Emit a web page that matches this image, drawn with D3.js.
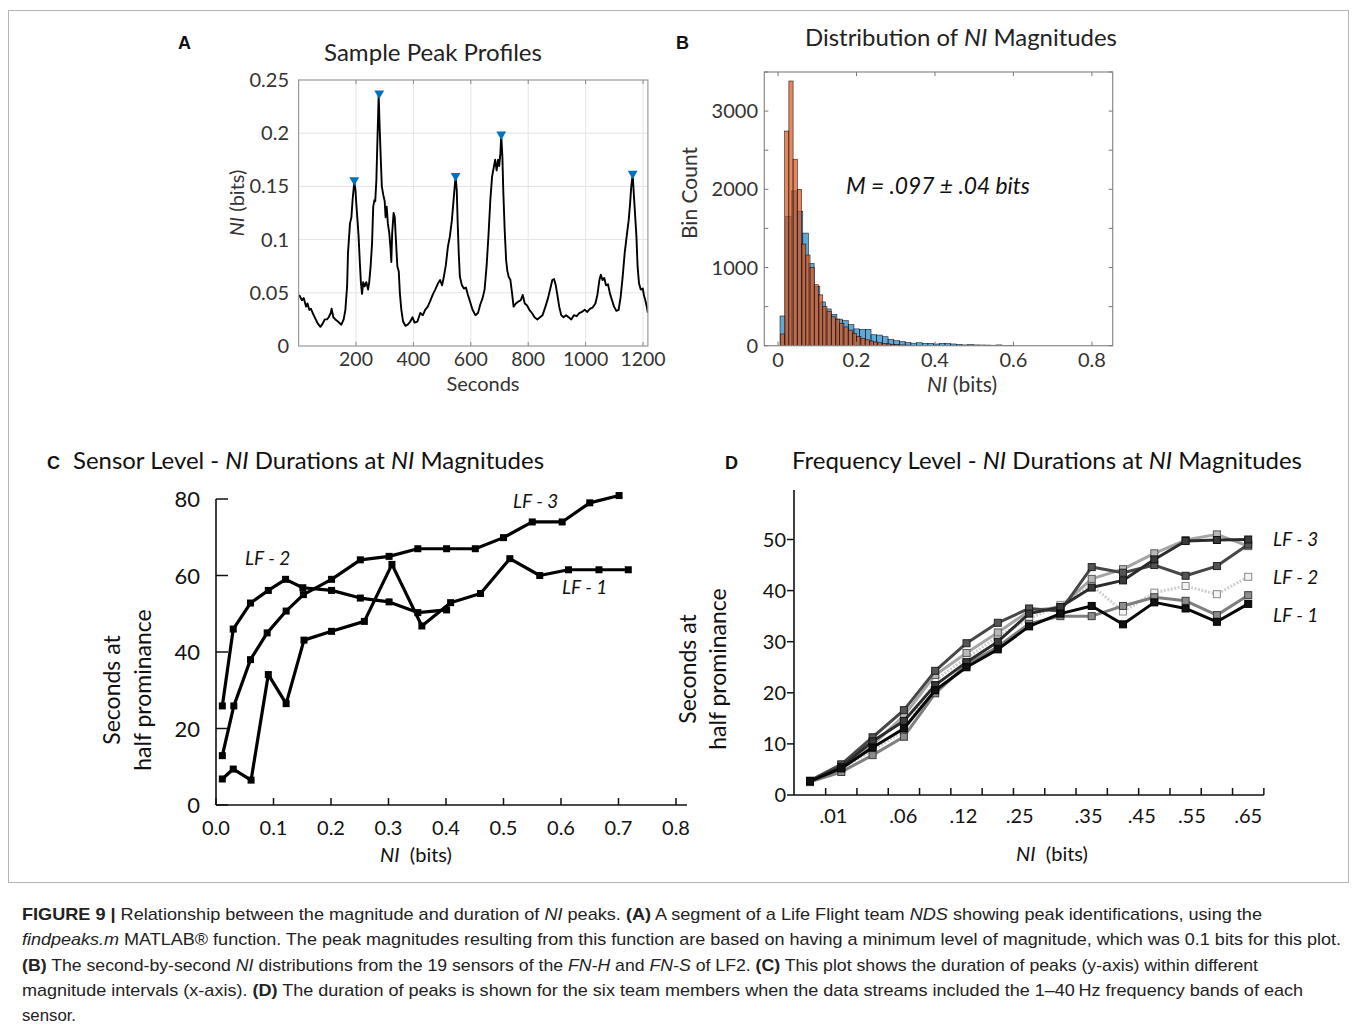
<!DOCTYPE html>
<html><head><meta charset="utf-8">
<script src="https://cdn.jsdelivr.net/npm/d3@7"></script>
<style>body{margin:0;background:#fff}svg{display:block}</style>
</head><body>
<svg id="fig" width="1357" height="1027"></svg>
<script>
// ---------------- DATA ----------------
// Panel A: sample NI profile (seconds, NI bits)
const profileSeconds = [2,12,18,26,31,37,43,49,58,67,76,84,91,99,105,112,115,121,128,137,149,157,163,169,172,179,184,188,194,198,201,206,209,214,217,221,225,230,236,242,246,251,256,260,264,267,271,274,279,282,286,290,295,300,303,307,311,316,320,323,326,331,335,339,344,349,353,358,364,372,380,389,397,404,414,424,433,441,450,458,467,476,486,493,500,506,513,520,527,534,539,544,547,551,554,558,562,569,576,583,590,597,606,616,625,633,641,648,655,662,668,674,680,685,690,695,699,703,706,710,713,718,723,727,732,738,744,749,757,767,774,781,788,796,804,813,822,832,841,850,860,869,877,884,890,896,901,908,915,923,932,941,950,959,969,978,987,997,1006,1015,1024,1034,1041,1048,1053,1059,1065,1071,1078,1085,1092,1099,1107,1115,1122,1129,1136,1143,1150,1155,1159,1164,1167,1172,1177,1181,1186,1192,1199,1203,1208,1213,1217];
const profileNI = [.048,.043,.045,.037,.040,.034,.035,.031,.026,.021,.018,.021,.025,.025,.027,.031,.035,.027,.025,.023,.020,.025,.034,.056,.087,.115,.121,.137,.154,.147,.134,.115,.103,.075,.060,.049,.060,.056,.060,.053,.060,.075,.097,.131,.137,.136,.156,.187,.236,.209,.178,.150,.142,.136,.121,.131,.115,.106,.093,.079,.106,.125,.121,.100,.075,.070,.049,.034,.023,.019,.020,.023,.027,.022,.023,.031,.029,.034,.037,.042,.048,.053,.059,.062,.057,.065,.076,.093,.103,.118,.134,.150,.159,.147,.118,.087,.065,.057,.054,.055,.048,.042,.034,.029,.031,.039,.045,.053,.075,.106,.137,.159,.168,.175,.165,.175,.169,.181,.198,.178,.147,.109,.081,.071,.065,.062,.049,.037,.040,.042,.043,.048,.040,.038,.034,.031,.027,.025,.027,.029,.037,.045,.054,.062,.063,.057,.049,.037,.029,.027,.029,.027,.025,.029,.028,.031,.032,.034,.032,.035,.036,.040,.048,.062,.067,.062,.064,.057,.058,.049,.043,.037,.033,.034,.046,.065,.087,.103,.118,.134,.150,.161,.147,.125,.103,.075,.059,.053,.054,.048,.043,.037,.031];
const peakSeconds = [194, 281, 547, 706, 1164];
const peakNI = [0.156, 0.2375, 0.160, 0.199, 0.162];
const aXTicks = [200, 400, 600, 800, 1000, 1200];
const aYTicks = [0, 0.05, 0.1, 0.15, 0.2, 0.25];
const aYTickLabels = ["0", "0.05", "0.1", "0.15", "0.2", "0.25"];

// Panel B: histograms of NI magnitudes
const blueBinStart = 0.005, blueBinWidth = 0.0145;
const blueCounts = [380,1650,1980,1720,1440,1050,760,560,470,400,340,320,270,215,210,210,140,136,115,82,64,52,40,32,38,30,30,22,30,28,22,17,10,15,10,9,8,6,10,5,4];
const orangeBinStart = 0.006, orangeBinWidth = 0.0108;
const orangeCounts = [150,2745,3385,2385,2000,1300,1160,1000,780,650,500,435,370,340,285,240,200,160,120,95,75,60,48,38,30,24,18,14,10,8,6,4,3,2];
const bXTicks = [0, 0.2, 0.4, 0.6, 0.8];
const bXTickLabels = ["0", "0.2", "0.4", "0.6", "0.8"];
const bYTicks = [0, 1000, 2000, 3000];
const bYMinorTicks = [500, 1500, 2500, 3500];

// Panel C: sensor level durations
const cLF1x = [0.011,0.030,0.061,0.091,0.122,0.153,0.201,0.258,0.306,0.358,0.408,0.460,0.511,0.563,0.613,0.666,0.717];
const cLF1y = [6.8,9.4,6.5,34.1,26.5,43.1,45.4,48,62.9,46.8,52.9,55.3,64.4,60,61.5,61.5,61.5];
const cLF2x = [0.011,0.030,0.060,0.091,0.121,0.151,0.201,0.251,0.301,0.351,0.401];
const cLF2y = [25.9,46,52.8,56.1,59,56.8,56.1,54.1,53.1,50.3,51];
const cLF3x = [0.011,0.031,0.060,0.089,0.122,0.152,0.201,0.251,0.301,0.351,0.401,0.451,0.500,0.550,0.602,0.650,0.701];
const cLF3y = [12.9,25.9,38,45,50.7,55,59,64.1,65,67,67,67,69.9,74,74,79,80.9];
const cXTicks = [0,0.1,0.2,0.3,0.4,0.5,0.6,0.7,0.8];
const cXTickLabels = ["0.0","0.1","0.2","0.3","0.4","0.5","0.6","0.7","0.8"];
const cYTicks = [0,20,40,60,80];

// Panel D: frequency level durations, six team members (15 magnitude bins)
const dBins = d3.range(1, 16);
const dMember1 = [2.7,5.2,9.3,13.0,20.5,25.0,28.5,33.0,35.5,37.0,33.4,37.7,36.5,33.9,37.4];
const dMember2 = [2.6,4.5,7.8,11.4,19.9,25.5,29.0,33.5,35.0,35.0,37.0,38.7,38.0,35.2,39.1];
const dMember3 = [2.5,5.0,8.8,12.5,22.5,26.8,31.0,34.5,37.2,41.0,35.9,39.6,40.9,39.3,42.7];
const dMember4 = [2.8,6.0,11.3,16.6,24.3,29.7,33.7,36.5,36.0,44.6,43.5,45.0,42.9,44.8,49.0];
const dMember5 = [2.7,5.5,10.5,14.5,21.5,26.0,30.0,35.5,36.8,40.6,42.0,46.1,49.7,49.9,50.0];
const dMember6 = [2.6,5.8,9.8,15.5,23.5,27.8,31.8,36.0,36.8,42.3,44.2,47.3,49.9,51.0,48.7];
const dTickLabels = [".01",".06",".12",".25",".35",".45",".55",".65"];
const dTickLabelBins = [1.75, 3.98, 5.9, 7.7, 9.9, 11.6, 13.2, 15];
const dYTicks = [0,10,20,30,40,50];

// ---------------- DRAW ----------------
const svg = d3.select('#fig');
const F = "Lato, 'Open Sans', sans-serif";
const CAP = "'Liberation Sans', Arial, sans-serif";
svg.append('rect').attr('width',1357).attr('height',1027).attr('fill','#fff');
svg.append('rect').attr('x',8.5).attr('y',10.5).attr('width',1340).attr('height',872)
  .attr('fill','none').attr('stroke','#b5b5b5').attr('stroke-width',1);

function rich(parent, x, y, str, opts) {
  const t = parent.append('text').attr('x', x).attr('y', y);
  Object.entries(opts || {}).forEach(([k, v]) => t.attr(k, v));
  str.split(/(\*\*[^*]+\*\*|\*[^*]+\*)/).filter(s => s.length).forEach(s => {
    const ts = t.append('tspan');
    if (s.startsWith('**')) ts.text(s.slice(2, -2)).attr('font-weight', 'bold');
    else if (s.startsWith('*')) ts.text(s.slice(1, -1)).attr('font-style', 'italic');
    else ts.text(s);
  });
  return t;
}
const zip = (a, b) => a.map((v, i) => [v, b[i]]);

// Panel letters
[['A',178,49],['B',676,49],['C',47,469],['D',725,469]].forEach(([l,x,y]) =>
  svg.append('text').attr('x',x).attr('y',y).text(l).attr('font-family',CAP)
    .attr('font-weight','bold').attr('font-size',18).attr('fill','#111'));

// ===== Panel A =====
{
  const g = svg.append('g');
  const x = d3.scaleLinear().domain([0, 1217]).range([298.6, 647.9]);
  const y = d3.scaleLinear().domain([0, 0.25]).range([346, 80]);
  const [x0, x1] = x.range(), [y0, y1] = y.range();
  g.selectAll('.gx').data(aXTicks).join('line').attr('x1', d => x(d)).attr('x2', d => x(d))
    .attr('y1', y0).attr('y2', y1).attr('stroke', '#e4e4e4').attr('stroke-width', 1);
  g.selectAll('.gy').data(aYTicks.slice(1, -1)).join('line').attr('y1', d => y(d)).attr('y2', d => y(d))
    .attr('x1', x0).attr('x2', x1).attr('stroke', '#e4e4e4').attr('stroke-width', 1);
  g.append('clipPath').attr('id', 'clipA').append('rect').attr('x', x0).attr('y', y1).attr('width', x1 - x0).attr('height', y0 - y1);
  g.append('path').datum(zip(profileSeconds, profileNI)).attr('clip-path', 'url(#clipA)')
    .attr('d', d3.line().x(d => x(d[0])).y(d => y(d[1])))
    .attr('fill', 'none').attr('stroke', '#000').attr('stroke-width', 1.9).attr('stroke-linejoin', 'round');
  g.selectAll('.pk').data(zip(peakSeconds, peakNI)).join('path')
    .attr('d', d3.symbol(d3.symbolTriangle, 42)())
    .attr('transform', d => `translate(${x(d[0])},${y(d[1])}) rotate(180)`).attr('fill', '#0072BD');
  g.append('rect').attr('x', x0).attr('y', y1).attr('width', x1 - x0).attr('height', y0 - y1)
    .attr('fill', 'none').attr('stroke', '#9a9a9a').attr('stroke-width', 1.2);
  aXTicks.forEach(d => {
    g.append('line').attr('x1', x(d)).attr('x2', x(d)).attr('y1', y0).attr('y2', y0 - 4).attr('stroke', '#888');
    g.append('line').attr('x1', x(d)).attr('x2', x(d)).attr('y1', y1).attr('y2', y1 + 4).attr('stroke', '#888');
  });
  g.selectAll('.xl').data(aXTicks).join('text').attr('x', d => x(d)).attr('y', 366).text(d => d)
    .attr('text-anchor', 'middle').attr('font-family', F).attr('font-size', 19.5).attr('fill', '#333');
  g.selectAll('.yl').data(aYTicks).join('text').attr('x', 289).attr('y', d => y(d) + 7).text((d, i) => aYTickLabels[i])
    .attr('text-anchor', 'end').attr('font-family', F).attr('font-size', 20).attr('fill', '#333');
  g.append('text').attr('x', 483).attr('y', 391).text('Seconds').attr('text-anchor', 'middle')
    .attr('font-family', F).attr('font-size', 20).attr('fill', '#333');
  rich(g, 0, 0, '*NI* (bits)', {transform: 'translate(244,203) rotate(-90)', 'text-anchor': 'middle',
    'font-family': F, 'font-size': 20, fill: '#333'});
  rich(g, 433, 61, 'Sample Peak Profiles', {'text-anchor': 'middle', 'font-family': F, 'font-size': 23,
    fill: '#222', textLength: 218, lengthAdjust: 'spacingAndGlyphs'});
}

// ===== Panel B =====
{
  const g = svg.append('g');
  const x = d3.scaleLinear().domain([-0.035, 0.853]).range([764.3, 1112.7]);
  const y = d3.scaleLinear().domain([0, 3500]).range([345.7, 72]);
  const [x0, x1] = x.range(), [y0, y1] = y.range();
  const drawHist = (counts, start, w, color, op) => {
    g.append('g').selectAll('rect').data(counts).join('rect')
      .attr('x', (d, i) => x(start + i * w)).attr('width', (d, i) => x(start + (i + 1) * w) - x(start + i * w))
      .attr('y', d => y(d)).attr('height', d => y(0) - y(d))
      .attr('fill', color).attr('fill-opacity', op)
      .attr('stroke', '#000').attr('stroke-width', 0.6).attr('stroke-opacity', 0.85);
  };
  drawHist(blueCounts, blueBinStart, blueBinWidth, '#0072BD', 0.62);
  drawHist(orangeCounts, orangeBinStart, orangeBinWidth, '#D95319', 0.7);
  g.append('rect').attr('x', x0).attr('y', y1).attr('width', x1 - x0).attr('height', y0 - y1)
    .attr('fill', 'none').attr('stroke', '#8a8a8a').attr('stroke-width', 1.2);
  bXTicks.forEach(d => {
    g.append('line').attr('x1', x(d)).attr('x2', x(d)).attr('y1', y0).attr('y2', y0 - 4).attr('stroke', '#777');
    g.append('line').attr('x1', x(d)).attr('x2', x(d)).attr('y1', y1).attr('y2', y1 + 4).attr('stroke', '#777');
  });
  bYTicks.concat(bYMinorTicks).forEach(d => {
    g.append('line').attr('y1', y(d)).attr('y2', y(d)).attr('x1', x0).attr('x2', x0 + 4).attr('stroke', '#777');
    g.append('line').attr('y1', y(d)).attr('y2', y(d)).attr('x1', x1).attr('x2', x1 - 4).attr('stroke', '#777');
  });
  g.selectAll('.xl').data(bXTicks).join('text').attr('x', d => x(d)).attr('y', 367).text((d, i) => bXTickLabels[i])
    .attr('text-anchor', 'middle').attr('font-family', F).attr('font-size', 20).attr('fill', '#333');
  g.selectAll('.yl').data(bYTicks).join('text').attr('x', 758).attr('y', d => y(d) + 7).text(d => d)
    .attr('text-anchor', 'end').attr('font-family', F).attr('font-size', 20).attr('fill', '#333');
  rich(g, 962, 392, '*NI* (bits)', {'text-anchor': 'middle', 'font-family': F, 'font-size': 21, fill: '#333'});
  rich(g, 0, 0, 'Bin Count', {transform: 'translate(697,193) rotate(-90)', 'text-anchor': 'middle',
    'font-family': F, 'font-size': 21, fill: '#333'});
  rich(g, 846, 194, '*M = .097 ± .04 bits*', {'font-family': F, 'font-size': 23, fill: '#111',
    textLength: 184, lengthAdjust: 'spacingAndGlyphs'});
  rich(g, 961, 46, 'Distribution of *NI* Magnitudes', {'text-anchor': 'middle', 'font-family': F, 'font-size': 23,
    fill: '#222', textLength: 312, lengthAdjust: 'spacingAndGlyphs'});
}

// ===== Panel C =====
{
  const g = svg.append('g');
  const x = d3.scaleLinear().domain([0, 0.8]).range([216, 676]);
  const y = d3.scaleLinear().domain([0, 80]).range([805, 499]);
  g.append('line').attr('x1', 216).attr('x2', 687).attr('y1', y(0)).attr('y2', y(0)).attr('stroke', '#111').attr('stroke-width', 1.6);
  g.append('line').attr('x1', 216).attr('x2', 216).attr('y1', y(0)).attr('y2', y(80)).attr('stroke', '#111').attr('stroke-width', 1.6);
  cXTicks.forEach(d => g.append('line').attr('x1', x(d)).attr('x2', x(d)).attr('y1', y(0)).attr('y2', y(0) - 7).attr('stroke', '#111').attr('stroke-width', 1.5));
  cYTicks.forEach(d => g.append('line').attr('y1', y(d)).attr('y2', y(d)).attr('x1', 216).attr('x2', 228).attr('stroke', '#111').attr('stroke-width', 1.5));
  const line = d3.line().x(d => x(d[0])).y(d => y(d[1]));
  [[cLF1x, cLF1y], [cLF2x, cLF2y], [cLF3x, cLF3y]].forEach(([xs, ys]) => {
    const pts = zip(xs, ys);
    g.append('path').datum(pts).attr('d', line).attr('fill', 'none').attr('stroke', '#000')
      .attr('stroke-width', 3.2).attr('stroke-linejoin', 'round');
    g.append('g').selectAll('rect').data(pts).join('rect')
      .attr('x', d => x(d[0]) - 3.5).attr('y', d => y(d[1]) - 3.5).attr('width', 7).attr('height', 7).attr('fill', '#000');
  });
  g.selectAll('.xl').data(cXTicks).join('text').attr('x', d => x(d)).attr('y', 835).text((d, i) => cXTickLabels[i])
    .attr('text-anchor', 'middle').attr('font-family', F).attr('font-size', 20).attr('fill', '#111');
  g.selectAll('.yl').data(cYTicks).join('text').attr('x', 200).attr('y', d => y(d) + 8).text(d => d)
    .attr('text-anchor', 'end').attr('font-family', F).attr('font-size', 22).attr('fill', '#111');
  rich(g, 416, 862, '*NI*  (bits)', {'text-anchor': 'middle', 'font-family': F, 'font-size': 20, fill: '#111', 'xml:space': 'preserve'});
  rich(g, 0, 0, 'Seconds at', {transform: 'translate(120,690) rotate(-90)', 'text-anchor': 'middle', 'font-family': F, 'font-size': 23, fill: '#111'});
  rich(g, 0, 0, 'half prominance', {transform: 'translate(151,690) rotate(-90)', 'text-anchor': 'middle', 'font-family': F, 'font-size': 23, fill: '#111'});
  const lab = {'font-family': F, 'font-size': 19, 'font-style': 'italic', fill: '#111'};
  rich(g, 513, 508, 'LF - 3', lab);
  rich(g, 245, 565, 'LF - 2', lab);
  rich(g, 562, 594, 'LF - 1', lab);
  rich(g, 73, 469, 'Sensor Level - *NI* Durations at *NI* Magnitudes', {'font-family': F, 'font-size': 23, fill: '#111',
    textLength: 471, lengthAdjust: 'spacingAndGlyphs'});
}

// ===== Panel D =====
{
  const g = svg.append('g');
  const x = d3.scaleLinear().domain([1, 15]).range([810, 1248.2]);
  const y = d3.scaleLinear().domain([0, 60]).range([795, 488.4]);
  g.append('line').attr('x1', 794).attr('x2', x(15.5)).attr('y1', y(0)).attr('y2', y(0)).attr('stroke', '#111').attr('stroke-width', 1.6);
  g.append('line').attr('x1', 794).attr('x2', 794).attr('y1', y(0)).attr('y2', y(59.7)).attr('stroke', '#111').attr('stroke-width', 1.6);
  d3.range(1.5, 15.6, 1).forEach(d => g.append('line').attr('x1', x(d)).attr('x2', x(d)).attr('y1', y(0)).attr('y2', y(0) - 7).attr('stroke', '#111').attr('stroke-width', 1.5));
  dYTicks.forEach(d => g.append('line').attr('y1', y(d)).attr('y2', y(d)).attr('x1', 787).attr('x2', 794).attr('stroke', '#111').attr('stroke-width', 1.5));
  const line = d3.line().x(d => x(d[0])).y(d => y(d[1]));
  const members = [
    {v: dMember3, stroke: '#cfcfcf', fill: '#f4f4f4', mstroke: '#8a8a8a', dash: '2,1.5'},
    {v: dMember6, stroke: '#a5a5a5', fill: '#b8b8b8', mstroke: '#5a5a5a', dash: null},
    {v: dMember2, stroke: '#7f7f7f', fill: '#8c8c8c', mstroke: '#3c3c3c', dash: null},
    {v: dMember4, stroke: '#474747', fill: '#555', mstroke: '#222', dash: null},
    {v: dMember5, stroke: '#2c2c2c', fill: '#3a3a3a', mstroke: '#111', dash: null},
    {v: dMember1, stroke: '#080808', fill: '#111', mstroke: '#000', dash: null}
  ];
  members.forEach(m => {
    const pts = zip(dBins, m.v);
    const p = g.append('path').datum(pts).attr('d', line).attr('fill', 'none').attr('stroke', m.stroke)
      .attr('stroke-width', 3).attr('stroke-linejoin', 'round');
    if (m.dash) p.attr('stroke-dasharray', m.dash);
    g.append('g').selectAll('rect').data(pts).join('rect')
      .attr('x', d => x(d[0]) - 3.5).attr('y', d => y(d[1]) - 3.5).attr('width', 7).attr('height', 7)
      .attr('fill', m.fill).attr('stroke', m.mstroke).attr('stroke-width', 1);
  });
  g.selectAll('.xl').data(dTickLabelBins).join('text').attr('x', d => x(d)).attr('y', 823).text((d, i) => dTickLabels[i])
    .attr('text-anchor', 'middle').attr('font-family', F).attr('font-size', 20).attr('fill', '#111');
  g.selectAll('.yl').data(dYTicks).join('text').attr('x', 786).attr('y', d => y(d) + 7).text(d => d)
    .attr('text-anchor', 'end').attr('font-family', F).attr('font-size', 20).attr('fill', '#111');
  rich(g, 1052, 861, '*NI*  (bits)', {'text-anchor': 'middle', 'font-family': F, 'font-size': 20, fill: '#111', 'xml:space': 'preserve'});
  rich(g, 0, 0, 'Seconds at', {transform: 'translate(696,669) rotate(-90)', 'text-anchor': 'middle', 'font-family': F, 'font-size': 23, fill: '#111'});
  rich(g, 0, 0, 'half prominance', {transform: 'translate(726,669) rotate(-90)', 'text-anchor': 'middle', 'font-family': F, 'font-size': 23, fill: '#111'});
  const lab = {'font-family': F, 'font-size': 19, 'font-style': 'italic', fill: '#111'};
  rich(g, 1273, 546, 'LF - 3', lab);
  rich(g, 1273, 584, 'LF - 2', lab);
  rich(g, 1273, 622, 'LF - 1', lab);
  rich(g, 792, 469, 'Frequency Level - *NI* Durations at *NI* Magnitudes', {'font-family': F, 'font-size': 23, fill: '#111',
    textLength: 510, lengthAdjust: 'spacingAndGlyphs'});
}

// ===== Caption =====
const captionLines = [
  '**FIGURE 9 |** Relationship between the magnitude and duration of *NI* peaks. **(A)** A segment of a Life Flight team *NDS* showing peak identifications, using the',
  '*findpeaks.m* MATLAB® function. The peak magnitudes resulting from this function are based on having a minimum level of magnitude, which was 0.1 bits for this plot.',
  '**(B)** The second-by-second *NI* distributions from the 19 sensors of the *FN-H* and *FN-S* of LF2. **(C)** This plot shows the duration of peaks (y-axis) within different',
  'magnitude intervals (x-axis). **(D)** The duration of peaks is shown for the six team members when the data streams included the 1–40\u2009Hz frequency bands of each',
  'sensor.'
];
const captionWidths = [1240, 1319, 1236, 1281, 54];
captionLines.forEach((s, i) => {
  rich(svg, 22, 920 + i * 25.3, s, {'font-family': CAP, 'font-size': 17, fill: '#222',
    textLength: captionWidths[i], lengthAdjust: 'spacingAndGlyphs'});
});
</script>
</body></html>
